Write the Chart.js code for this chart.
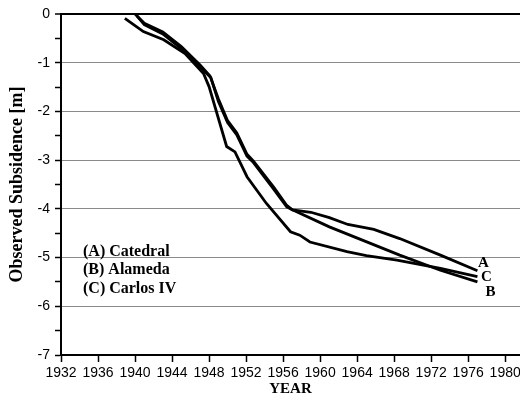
<!DOCTYPE html>
<html>
<head>
<meta charset="utf-8">
<script src="https://cdn.jsdelivr.net/npm/chart.js@4/dist/chart.umd.min.js"></script>
<style>
  html, body { margin: 0; padding: 0; background: #fff; }
  #wrap { width: 520px; height: 398px; }
</style>
</head>
<body>
<div id="wrap"><canvas id="subsidence"></canvas></div>
<script>
// observed subsidence per station (year, metres)
const yearsA = [1940, 1941, 1943, 1945, 1947, 1948.1, 1949, 1950, 1951, 1952.1, 1952.8, 1955, 1956.4, 1957, 1959, 1961, 1963, 1965.8, 1968.6, 1973, 1977];
const valuesA = [0, -0.19, -0.37, -0.67, -1.04, -1.27, -1.74, -2.19, -2.44, -2.88, -3.02, -3.56, -3.93, -4.02, -4.07, -4.18, -4.32, -4.42, -4.61, -4.95, -5.27];

const yearsB = [1940.2, 1941, 1943, 1945, 1947, 1948.2, 1949, 1950, 1951, 1952.1, 1952.8, 1955, 1956.4, 1957, 1961, 1968.6, 1973, 1977];
const valuesB = [-0.04, -0.22, -0.41, -0.71, -1.08, -1.31, -1.79, -2.23, -2.48, -2.92, -3.05, -3.6, -3.96, -4.02, -4.37, -4.95, -5.26, -5.5];

const yearsC = [1938.9, 1940.9, 1943.1, 1945.4, 1947.4, 1948, 1949.9, 1950.8, 1952.1, 1954.2, 1956.8, 1957.8, 1958.9, 1962.9, 1965, 1968.3, 1973, 1977];
const valuesC = [-0.09, -0.36, -0.53, -0.81, -1.22, -1.49, -2.72, -2.83, -3.34, -3.89, -4.47, -4.54, -4.68, -4.88, -4.96, -5.05, -5.22, -5.39];

const stations = ['(A) Catedral', '(B) Alameda', '(C) Carlos IV'];
const endLabels = ['A', 'B', 'C'];

function toPoints(xs, ys) {
  return xs.map((x, i) => ({ x: x, y: ys[i] }));
}

const serifBold = '"Liberation Serif", "Times New Roman", serif';
const sans = '"Liberation Sans", Arial, sans-serif';

// station names in the lower left and letters at the end of each curve
const annotations = {
  id: 'annotations',
  afterDatasetsDraw(chart) {
    const { ctx, chartArea, scales } = chart;
    ctx.save();
    ctx.fillStyle = '#000';
    ctx.font = 'bold 16px ' + serifBold;
    ctx.textBaseline = 'middle';
    ctx.textAlign = 'left';
    stations.forEach((s, i) => {
      ctx.fillText(s, chartArea.left + 22, 252 + i * 18.3);
    });

    ctx.font = 'bold 15px ' + serifBold;
    ctx.textAlign = 'center';
    const offsets = [[6, -8], [13, 10], [9, 1]];
    chart.data.datasets.forEach((ds, i) => {
      const last = ds.data[ds.data.length - 1];
      const px = scales.x.getPixelForValue(last.x);
      const py = scales.y.getPixelForValue(last.y);
      ctx.fillText(endLabels[i], px + offsets[i][0], py + offsets[i][1]);
    });
    ctx.restore();
  }
};

const lineStyle = {
  borderColor: '#000',
  borderWidth: 2.8,
  pointRadius: 0,
  tension: 0,
  fill: false
};

new Chart(document.getElementById('subsidence'), {
  type: 'line',
  data: {
    datasets: [
      Object.assign({ label: stations[0], data: toPoints(yearsA, valuesA) }, lineStyle),
      Object.assign({ label: stations[1], data: toPoints(yearsB, valuesB) }, lineStyle),
      Object.assign({ label: stations[2], data: toPoints(yearsC, valuesC) }, lineStyle)
    ]
  },
  options: {
    responsive: true,
    maintainAspectRatio: false,
    animation: false,
    layout: { padding: { top: 14, right: 0, left: 0, bottom: 0 } },
    plugins: {
      legend: { display: false },
      tooltip: { enabled: false }
    },
    scales: {
      x: {
        type: 'linear',
        min: 1932,
        max: 1981.6,
        afterFit(scale) {
          scale.paddingLeft = 0;
          scale.paddingRight = 0;
          scale.height = 43;
        },
        ticks: {
          stepSize: 4,
          includeBounds: false,
          color: '#000',
          padding: 3,
          maxRotation: 0,
          autoSkip: false,
          font: { family: sans, size: 14 },
          callback: v => String(v)
        },
        grid: {
          drawOnChartArea: false,
          tickLength: 7,
          tickColor: '#000',
          tickWidth: 1.5
        },
        border: { color: '#000', width: 2 },
        title: {
          display: true,
          text: 'YEAR',
          color: '#000',
          padding: { top: 0, bottom: 0 },
          font: { family: serifBold, size: 15, weight: 'bold' }
        }
      },
      y: {
        min: -7,
        max: 0,
        afterFit(scale) {
          scale.width = 61;
        },
        ticks: {
          stepSize: 0.5,
          color: '#000',
          padding: 5,
          autoSkip: false,
          font: { family: sans, size: 14 },
          callback: v => Number.isInteger(v) ? String(v) : ''
        },
        grid: {
          tickLength: 6,
          tickColor: '#000',
          tickWidth: 1.5,
          color: c => {
            const v = c.tick.value;
            if (v === 0) return '#000';
            return Number.isInteger(v) ? '#8a8a8a' : 'rgba(0,0,0,0)';
          },
          lineWidth: c => c.tick.value === 0 ? 2 : 1
        },
        border: { color: '#000', width: 2 },
        title: {
          display: true,
          text: 'Observed Subsidence [m]',
          color: '#000',
          padding: { top: 7, bottom: 0 },
          font: { family: serifBold, size: 18, weight: 'bold' }
        }
      }
    }
  },
  plugins: [annotations]
});
</script>
</body>
</html>
